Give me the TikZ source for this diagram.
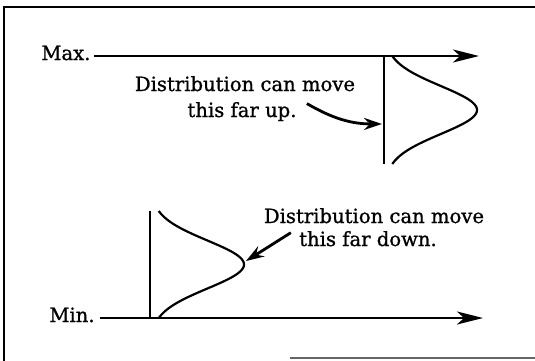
\documentclass[tikz,border=0pt]{standalone}
\usepackage{fontspec}
\setmainfont{DejaVu Serif}[FakeBold=1]
\usetikzlibrary{arrows.meta}

\begin{document}
\begin{tikzpicture}[x=0.5pt,y=-0.5pt,>=Stealth,
 lbl/.style={font=\fontsize{9.8}{12}\selectfont,inner sep=0pt,anchor=base},
 axis/.style={line width=1.3pt,-{Stealth[length=13pt,width=6.5pt,inset=3.5pt]}},
 stem/.style={line width=0.9pt},
 bell/.style={line width=1.1pt},
 note/.style={line width=1.4pt,-{Stealth[length=9pt,width=6pt,inset=3pt]}}]
\useasboundingbox (0,0) rectangle (535,360);
% frame
\draw[line width=0.9pt] (545,7) -- (4,7) -- (4,365);
\draw[line width=0.6pt,black!60] (290,358) -- (545,358);
% axes
\node[lbl,anchor=base west] (max) at (41,60) {Max.};
\node[lbl,anchor=base west] (min) at (49,322) {Min.};
\coordinate (maxend) at (479,56);
\coordinate (minend) at (483,318);
\draw[axis] ([xshift=1.5pt]max.east |- maxend) -- (maxend);
\draw[axis] ([xshift=2.5pt]min.east |- minend) -- (minend);
% upper distribution
\draw[stem] (384,56) -- (384,164);
\draw[bell] plot[domain=56:164,samples=80,smooth] ({385+92*exp(-0.5*((\x-110)/24)^2)},\x);
% lower distribution
\draw[stem] (150,211) -- (150,318);
\draw[bell] plot[domain=211:318,samples=80,smooth] ({151+93*exp(-0.5*((\x-264.5)/24)^2)},\x);
% labels
\node[lbl] (upA) at (245,91) {Distribution can move};
\node[lbl] (upB) at (242,117) {this far up.};
\node[lbl] (downA) at (374,223) {Distribution can move};
\node[lbl] (downB) at (368,246) {this far down.};
\coordinate (uptip) at (382,124);
\coordinate (downtip) at (246,261);
\draw[note] ([shift={(5pt,4pt)}]upB.east) to[bend right=15] (uptip);
\draw[note] ([shift={(-4pt,3pt)}]downB.west) -- (downtip);
\end{tikzpicture}
\end{document}
